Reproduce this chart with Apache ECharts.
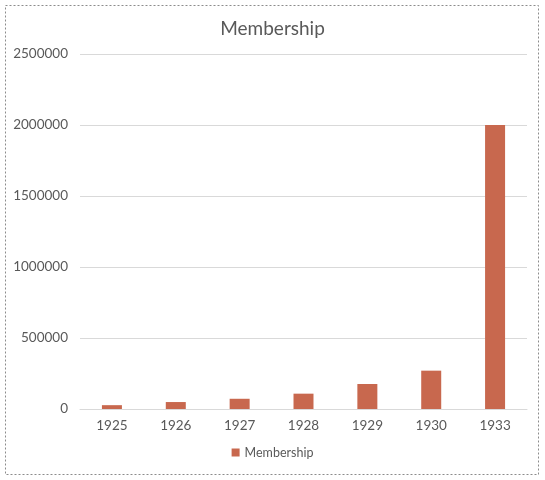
<!DOCTYPE html>
<html><head><meta charset="utf-8">
<script src="https://cdn.jsdelivr.net/npm/echarts@6/dist/echarts.min.js"></script>
<style>html,body{margin:0;padding:0;background:#fff}#c{width:545px;height:480px}</style>
</head><body><div id="c"></div>
<script>
const categories = ['1925','1926','1927','1928','1929','1930','1933'];
const membership = [27000, 49000, 72000, 108000, 176000, 270000, 2000000];
const seriesName = 'Membership';

const chart = echarts.init(document.getElementById('c'));
const font = 'Lato, "Open Sans", sans-serif';
chart.setOption({
  animation: false,
  backgroundColor: '#fff',
  title: {text: 'Membership', left: 'center', top: 14,
    textStyle: {fontFamily: font, fontSize: 19, fontWeight: 'normal', color: '#595959'}},
  graphic: [{type: 'rect', shape: {x: 5.5, y: 5.5, width: 533, height: 469},
    style: {fill: 'none', stroke: '#8c8c8c', lineWidth: 1, lineDash: [2, 2]}}],
  legend: {bottom: 16, left: 'center', itemWidth: 8, itemHeight: 8, icon: 'rect',
    textStyle: {fontFamily: font, fontSize: 12.5, color: '#595959'}, data: [seriesName]},
  grid: {left: 80, right: 18, top: 54, bottom: 71, containLabel: false},
  xAxis: {type: 'category', data: categories,
    axisLine: {lineStyle: {color: '#d9d9d9'}}, axisTick: {show: false},
    axisLabel: {fontFamily: font, fontSize: 13.5, color: '#595959', margin: 10}},
  yAxis: {type: 'value', min: 0, max: 2500000, interval: 500000,
    axisLine: {show: false}, axisTick: {show: false},
    splitLine: {lineStyle: {color: '#d9d9d9'}},
    axisLabel: {fontFamily: font, fontSize: 13.5, color: '#595959', margin: 12,
      formatter: v => String(v)}},
  series: [{name: seriesName, type: 'bar', data: membership, barWidth: 20,
    itemStyle: {color: '#C8684E'}}]
});
</script></body></html>
